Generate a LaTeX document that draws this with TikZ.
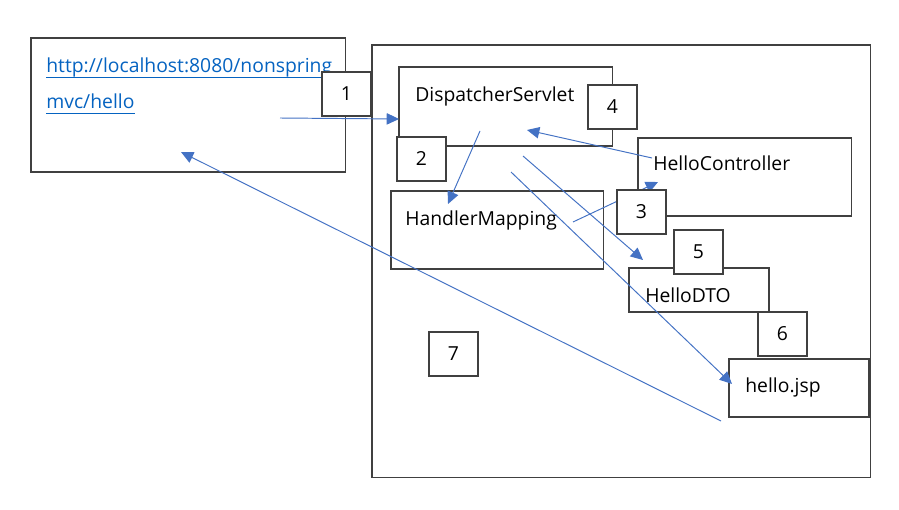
\documentclass[tikz,border=0pt]{standalone}
\usepackage{fontspec}
\setmainfont{Open Sans}
\usepackage{tikz}
\usetikzlibrary{arrows.meta,positioning,calc}
\usepackage{xcolor}
\definecolor{frame}{HTML}{404040}
\definecolor{link}{HTML}{0563C1}
\definecolor{accent}{HTML}{4472C4}
\tikzset{
  panel/.style={draw=frame,fill=white,line width=0.6pt,anchor=north west,
    inner sep=0pt,outer sep=0pt},
  stepno/.style={draw=frame,fill=white,line width=0.6pt,anchor=north west,
    inner sep=0pt,outer sep=0pt,minimum width=0.98cm,minimum height=0.88cm,
    font=\fontsize{11}{13}\selectfont},
  caption/.style={anchor=base west,inner sep=0pt,font=\fontsize{11}{13}\selectfont},
  url/.style={caption,text=link},
  urlline/.style={draw=link,line width=0.6pt},
  arrow/.style={-{Triangle[length=7pt,width=6.5pt]},draw=accent,line width=0.55pt}
}
\begin{document}
\begin{tikzpicture}[x=0.02cm,y=-0.02cm]
      \useasboundingbox (0,0) rectangle (899,510);
      % browser
      \node[panel,minimum width=6.30cm,minimum height=2.68cm] (browser) at (31,38) {};
      \node[url] (url1) at (46,73) {http://localhost:8080/nonspring};
      \node[url] (url2) at (46,109) {mvc/hello};
      \draw[urlline] ([yshift=-2.3pt]url1.base west) -- ([yshift=-2.3pt]url1.base east);
      \draw[urlline] ([yshift=-2.8pt]url2.base west) -- ([yshift=-2.8pt]url2.base east);
      % server
      \node[panel,minimum width=9.98cm,minimum height=8.66cm] (server) at (372,45) {};
      \node[panel,minimum width=4.28cm,minimum height=1.58cm] (ds) at (399,67) {};
      \node[panel,minimum width=4.26cm,minimum height=1.56cm] (hm) at (391,191) {};
      \node[panel,minimum width=4.28cm,minimum height=1.56cm] (hc) at (638,138) {};
      \node[panel,minimum width=2.80cm,minimum height=0.88cm] (dto) at (629,268) {};
      \node[panel,minimum width=2.80cm,minimum height=1.16cm] (jsp) at (729,359) {};
      \node[caption] (dsText) at (415,102) {DispatcherServlet};
      \node[caption] (hmText) at (405,225) {HandlerMapping};
      \node[caption] (hcText) at (653,171) {HelloController};
      \node[caption] (dtoText) at (645,302) {HelloDTO};
      \node[caption] (jspText) at (745,392) {hello.jsp};
      % arrows
      \coordinate (a1) at (280,118); \coordinate (b1) at (399,119);
      \coordinate (a2) at (480,131); \coordinate (b2) at (448,204);
      \coordinate (a3) at (573,222); \coordinate (b3) at (658,182);
      \coordinate (a4) at (652,158); \coordinate (b4) at (527,130);
      \coordinate (a5) at (523,156); \coordinate (b5) at (643,260);
      \coordinate (a6) at (511,172); \coordinate (b6) at (732,384);
      \coordinate (a7) at (721,421); \coordinate (b7) at (181,152);
      \foreach \i in {1,...,7} {
        \draw[arrow] (a\i) -- (b\i);
      }
      % step numbers
      \node[stepno] (n1) at (322,72) {1};
      \node[stepno] (n2) at (397,137) {2};
      \node[stepno] (n3) at (617,190) {3};
      \node[stepno] (n4) at (588,85) {4};
      \node[stepno] (n5) at (674,230) {5};
      \node[stepno] (n6) at (758,312) {6};
      \node[stepno] (n7) at (429,332) {7};
    \end{tikzpicture}
\end{document}
